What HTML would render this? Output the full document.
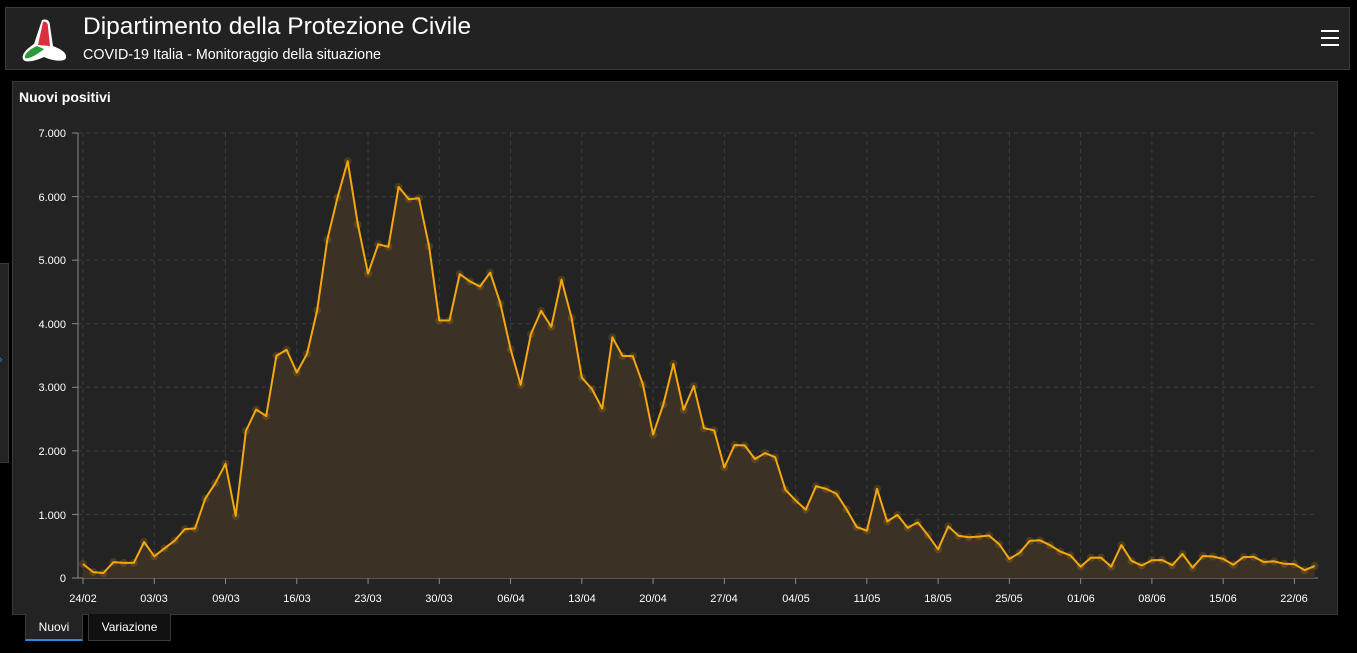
<!DOCTYPE html>
<html><head><meta charset="utf-8"><style>
body{margin:0;width:1357px;height:653px;background:#000;font-family:"Liberation Sans",sans-serif;position:relative;overflow:hidden;color:#fff}
.hdr{position:absolute;left:5px;top:7px;width:1345px;height:63px;background:#222;border:1px solid #3a3a3a;box-sizing:border-box}
.t1{position:absolute;left:77px;top:5px;font-size:24.5px;color:#fff}
.t2{position:absolute;left:77px;top:39px;font-size:14.3px;color:#fff}
.ham{position:absolute;left:1315px;top:22px;width:18px}
.ham div{height:2px;background:#fff;margin-bottom:5px}
.panel{position:absolute;left:12px;top:81px;width:1326px;height:534px;background:#232323;border:1px solid #3a3a3a;box-sizing:border-box}
.ttl{position:absolute;left:6px;top:7px;font-size:14px;font-weight:bold}
.side{position:absolute;left:0;top:263px;width:9px;height:200px;background:#232323;border:1px solid #3a3a3a;border-left:none;box-sizing:border-box}
.tab{position:absolute;top:614px;height:27px;box-sizing:border-box;font-size:12px;text-align:center;line-height:27px}
</style></head><body>
<div class="hdr">
<svg style="position:absolute;left:14px;top:8px" width="50" height="48" viewBox="0 0 50 48">
<path d="M22 4 C28 2 30 6 30 10 L33 30 C40 33 47 36 46 42 C44 47 30 44 24 41 C18 44 5 48 3 43 C1 38 8 32 14 28 Z" fill="#fff"/>
<path d="M23 6 C27 5 28 8 28 11 L30 30 L18 29 Z" fill="#d8303c"/>
<path d="M17 30 L24 33 C18 38 8 44 5 42 C4 38 10 33 17 30Z" fill="#2a9a3a"/>
</svg>
<div class="t1">Dipartimento della Protezione Civile</div>
<div class="t2">COVID-19 Italia - Monitoraggio della situazione</div>
<div class="ham"><div></div><div></div><div></div></div>
</div>
<div class="side"><span style="position:absolute;left:-1px;top:90px;color:#2a8ae0;font-size:11px">›</span></div>
<div class="panel"><div class="ttl">Nuovi positivi</div></div>
<svg id="ch" style="position:absolute;left:0;top:0" width="1357" height="653" font-family="Liberation Sans, sans-serif" font-size="11" fill="#fff">
<g id="grid" stroke="#3e3e3e" stroke-dasharray="4,4" stroke-width="1"></g>
<line x1="78" y1="133" x2="78" y2="578" stroke="#888"/>
<line x1="72" y1="578" x2="1318" y2="578" stroke="#888"/>
<g id="ticks" stroke="#888"></g>
<path id="area" fill="#3b3124"/>
<g id="dots" fill="#f5a70f" fill-opacity="0.18"></g>
<path id="line" fill="none" stroke="#f5a70f" stroke-width="2" stroke-linejoin="round"/>
<g text-anchor="end">
<text x="66" y="137">7.000</text><text x="66" y="201">6.000</text><text x="66" y="264">5.000</text><text x="66" y="328">4.000</text><text x="66" y="391">3.000</text><text x="66" y="455">2.000</text><text x="66" y="519">1.000</text><text x="66" y="582">0</text>
</g>
<g text-anchor="middle">
<text x="83" y="602">24/02</text><text x="154" y="602">03/03</text><text x="226" y="602">09/03</text><text x="297" y="602">16/03</text><text x="368" y="602">23/03</text><text x="439" y="602">30/03</text><text x="511" y="602">06/04</text><text x="582" y="602">13/04</text><text x="653" y="602">20/04</text><text x="724" y="602">27/04</text><text x="796" y="602">04/05</text><text x="867" y="602">11/05</text><text x="938" y="602">18/05</text><text x="1009" y="602">25/05</text><text x="1081" y="602">01/06</text><text x="1152" y="602">08/06</text><text x="1223" y="602">15/06</text><text x="1294" y="602">22/06</text>
</g>
</svg>
<div class="tab" style="left:25px;width:58px;background:#232323;border:1px solid #3a3a3a;border-top:none;border-bottom:2px solid #2a8ae0">Nuovi</div>
<div class="tab" style="left:88px;width:83px;background:#111;border:1px solid #3a3a3a;border-top:none">Variazione</div>
<script>
var d=[221,93,78,250,238,240,566,342,466,587,769,778,1247,1492,1797,977,2313,2651,2547,3497,3590,3233,3526,4207,5322,5986,6557,5560,4789,5249,5210,6153,5959,5974,5217,4050,4053,4782,4668,4585,4805,4316,3599,3039,3836,4204,3951,4694,4092,3153,2972,2667,3786,3493,3491,3047,2256,2729,3370,2646,3021,2357,2324,1739,2091,2086,1872,1965,1900,1389,1221,1075,1444,1401,1327,1083,802,744,1402,888,992,789,875,675,451,813,665,642,652,669,531,300,397,584,593,516,416,355,178,318,321,177,518,270,197,280,283,202,379,163,346,338,301,210,329,333,251,262,224,218,122,190];
var s=71.26/7,ns="http://www.w3.org/2000/svg";
function X(i){return 83+i*s}function Y(v){return 578-v*0.06357}
var p="",dg=document.getElementById("dots");d.forEach(function(v,i){p+=(i?"L":"M")+X(i).toFixed(1)+" "+Y(v).toFixed(1);var c=document.createElementNS(ns,"circle");c.setAttribute("cx",X(i));c.setAttribute("cy",Y(v));c.setAttribute("r",4);dg.appendChild(c);});
document.getElementById("line").setAttribute("d",p);
document.getElementById("area").setAttribute("d",p+"L"+X(d.length-1)+" 578L83 578Z");
var g=document.getElementById("grid"),t=document.getElementById("ticks");
for(var k=1;k<=7;k++){var l=document.createElementNS(ns,"line");l.setAttribute("x1",78);l.setAttribute("x2",1318);l.setAttribute("y1",Y(k*1000));l.setAttribute("y2",Y(k*1000));g.appendChild(l);
var m=document.createElementNS(ns,"line");m.setAttribute("x1",72);m.setAttribute("x2",78);m.setAttribute("y1",Y(k*1000));m.setAttribute("y2",Y(k*1000));t.appendChild(m);}
for(var k=0;k<18;k++){var x=X(k*7);var l=document.createElementNS(ns,"line");l.setAttribute("x1",x);l.setAttribute("x2",x);l.setAttribute("y1",133);l.setAttribute("y2",578);g.appendChild(l);
var m=document.createElementNS(ns,"line");m.setAttribute("x1",x);m.setAttribute("x2",x);m.setAttribute("y1",578);m.setAttribute("y2",584);t.appendChild(m);}
</script>
</body></html>
